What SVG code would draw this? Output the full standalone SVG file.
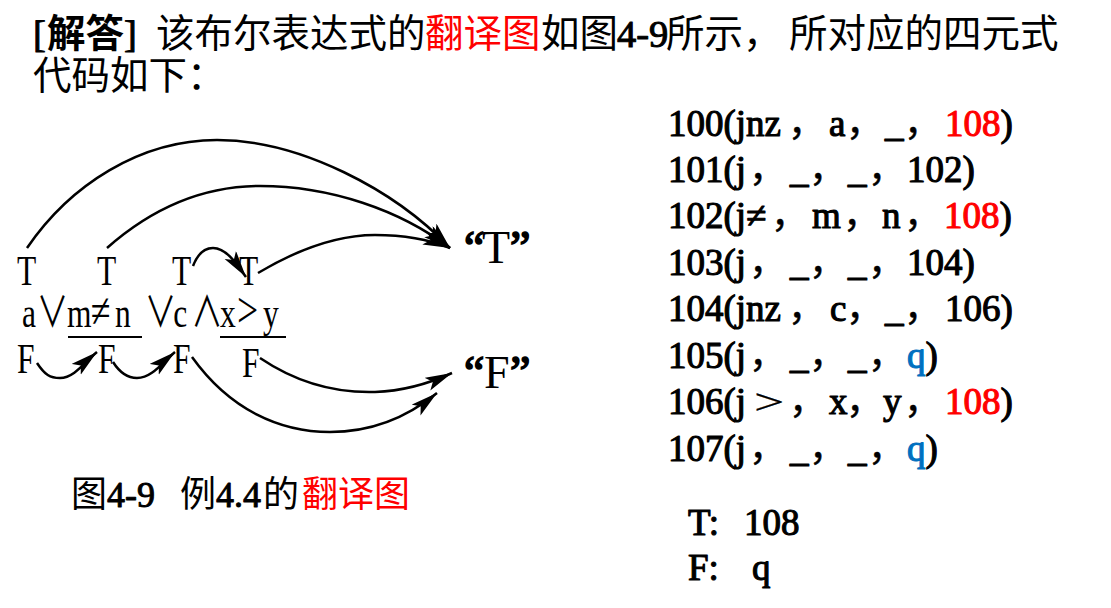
<svg xmlns="http://www.w3.org/2000/svg" width="1111" height="608" viewBox="0 0 1111 608">
<defs>
<style>
.cjk{font-family:"Noto Sans CJK SC",sans-serif;font-size:38.5px;fill:#000}
.lb{font-family:"Liberation Serif",serif;font-size:42px;fill:#000;stroke:#000;stroke-width:1.1;stroke-linejoin:round}
.cm{font-family:"Noto Sans CJK SC",sans-serif;stroke-width:0.6}
.red{fill:#ff0000}
.rb{fill:#ff0000;stroke:#ff0000}
.blue{fill:#0070c0;stroke:#0070c0}
.dg{font-family:"Liberation Serif",serif;font-size:42px;fill:#000}
.op{font-family:"Noto Sans CJK SC",sans-serif}
.code{font-family:"Liberation Serif",serif;font-size:42px;fill:#000;stroke:#000;stroke-width:1.25;stroke-linejoin:round}
.tgt{font-family:"Liberation Serif",serif;font-size:46px;fill:#000}
.q{stroke:#000;stroke-width:1.6}
.cap{font-family:"Noto Sans CJK SC",sans-serif;font-size:36px;fill:#000}
.arc{fill:none;stroke:#000;stroke-width:2.5;marker-end:url(#ah)}
.ul{stroke:#000;stroke-width:2.2}
</style>
<marker id="ah" markerUnits="userSpaceOnUse" markerWidth="30" markerHeight="16" refX="27" refY="7" orient="auto">
<path d="M0,0 L27,7 L0,14 L6,7 Z" fill="#000"/>
</marker>
</defs>
<rect width="1111" height="608" fill="#fff"/>

<g id="header">
<text class="cjk" y="47"><tspan x="47" font-weight="bold">解答</tspan><tspan x="156">该布尔表达式的</tspan><tspan x="425" class="red">翻译图</tspan><tspan x="541">如图</tspan><tspan x="666">所示，</tspan><tspan x="789">所对应的四元式</tspan></text>
<text class="lb" transform="translate(33,47) scale(0.917)">[</text>
<text class="lb" transform="translate(124,47) scale(0.917)">]</text>
<text class="lb" transform="translate(617,47) scale(0.917)">4-9</text>
<text class="cjk" x="33" y="89">代码如下：</text>
</g>

<g id="diagram-labels" transform="scale(0.75,1)">
<g id="t-row" class="dg">
<text x="22.7" y="285">T</text>
<text x="129.3" y="285">T</text>
<text x="229.3" y="285">T</text>
<text x="318.7" y="285">T</text>
</g>
<g id="expression" class="dg">
<text y="327"><tspan x="29.3">a</tspan><tspan x="49" class="op">∨</tspan><tspan x="89.3">m</tspan><tspan x="121" font-size="48">≠</tspan><tspan x="153.3">n</tspan><tspan x="193" class="op">∨</tspan><tspan x="231">c</tspan><tspan x="255" class="op">∧</tspan><tspan x="293.3">x</tspan><tspan x="316" font-size="50">&gt;</tspan><tspan x="350.7">y</tspan></text>
</g>
<g id="f-row" class="dg">
<text x="22.7" y="373">F</text>
<text x="130.7" y="373">F</text>
<text x="230.7" y="373">F</text>
<text x="322.7" y="377">F</text>
</g>
</g>
<g id="underlines">
<line class="ul" x1="68" y1="337" x2="142" y2="337"/>
<line class="ul" x1="220" y1="337" x2="286" y2="337"/>
</g>

<g id="target-T" class="tgt">
<text y="263"><tspan x="464" class="q">“</tspan><tspan x="482">T</tspan><tspan x="510" class="q">”</tspan></text>
</g>
<g id="target-F" class="tgt">
<text y="388"><tspan x="464" class="q">“</tspan><tspan x="484">F</tspan><tspan x="510" class="q">”</tspan></text>
</g>

<g id="connectors">
<path class="arc" d="M27,248 C70,185 140,140 217,140 C300,140 395,190 450,248"/>
<path class="arc" d="M107,248 C150,210 200,186 260,186 C330,186 400,210 450,248"/>
<path class="arc" d="M258,273 C300,248 340,235 375,235 C405,235 430,240 450,248"/>
<path class="arc" d="M193,266 C198,253 205,248 213,248 C226,248 236,263 246,277"/>
<path class="arc" d="M37,363 C45,375 50,378 60,378 C74,378 85,362 97,352"/>
<path class="arc" d="M113,362 C120,373 127,378 137,378 C152,378 163,362 175,352"/>
<path class="arc" d="M260,358 C300,385 340,393 375,392 C405,391 430,383 452,373"/>
<path class="arc" d="M192,357 C230,410 280,432 330,432 C375,432 410,415 437,393"/>
</g>

<g id="code" class="code" transform="scale(0.881)">
<text y="154.4"><tspan x="758.2">100(jnz</tspan><tspan x="894.4" class="cm">，</tspan><tspan x="941">a</tspan><tspan x="960.3" class="cm">，</tspan><tspan x="1004.5">_</tspan><tspan x="1026.1" class="cm">，</tspan><tspan x="1072.6" class="rb">108</tspan><tspan>)</tspan></text>
<text y="206.6"><tspan x="758.2">101(j</tspan><tspan x="850.2" class="cm">，</tspan><tspan x="896.7">_</tspan><tspan x="918.3" class="cm">，</tspan><tspan x="962.5">_</tspan><tspan x="985.2" class="cm">，</tspan><tspan x="1029.5">102)</tspan></text>
<text y="258.8"><tspan x="758.2">102(j≠</tspan><tspan x="875.1" class="cm">，</tspan><tspan x="921.7">m</tspan><tspan x="956.9" class="cm">，</tspan><tspan x="1001.1">n</tspan><tspan x="1026.1" class="cm">，</tspan><tspan x="1071.5" class="rb">108</tspan><tspan>)</tspan></text>
<text y="312.1"><tspan x="758.2">103(j</tspan><tspan x="850.2" class="cm">，</tspan><tspan x="896.7">_</tspan><tspan x="918.3" class="cm">，</tspan><tspan x="962.5">_</tspan><tspan x="985.2" class="cm">，</tspan><tspan x="1029.5">104)</tspan></text>
<text y="364.4"><tspan x="758.2">104(jnz</tspan><tspan x="894.4" class="cm">，</tspan><tspan x="942.1">c</tspan><tspan x="960.3" class="cm">，</tspan><tspan x="1004.5">_</tspan><tspan x="1026.1" class="cm">，</tspan><tspan x="1072.6">106)</tspan></text>
<text y="417.7"><tspan x="758.2">105(j</tspan><tspan x="850.2" class="cm">，</tspan><tspan x="896.7">_</tspan><tspan x="918.3" class="cm">，</tspan><tspan x="962.5">_</tspan><tspan x="985.2" class="cm">，</tspan><tspan x="1029.5" class="blue">q</tspan><tspan>)</tspan></text>
<text y="469.9"><tspan x="758.2">106(j</tspan><tspan x="895.6" class="cm">，</tspan><tspan x="941">x</tspan><tspan x="960.3" class="cm">，</tspan><tspan x="1002.3">y</tspan><tspan x="1026.1" class="cm">，</tspan><tspan x="1072.6" class="rb">108</tspan><tspan>)</tspan></text>
<text transform="translate(855.8,469.9) scale(1.45,0.95)" stroke-width="0.3">&gt;</text>
<text y="523.3"><tspan x="758.2">107(j</tspan><tspan x="850.2" class="cm">，</tspan><tspan x="896.7">_</tspan><tspan x="918.3" class="cm">，</tspan><tspan x="962.5">_</tspan><tspan x="985.2" class="cm">，</tspan><tspan x="1029.5" class="blue">q</tspan><tspan>)</tspan></text>
</g>

<g id="caption">
<text class="cap" y="507"><tspan x="71">图</tspan><tspan x="180">例</tspan><tspan x="263">的</tspan><tspan x="302" class="red">翻译图</tspan></text>
<text class="lb" transform="translate(107,507) scale(0.857)">4-9</text>
<text class="lb" transform="translate(216,507) scale(0.857)">4.4</text>
</g>

<g id="exits" class="code" transform="scale(0.881)">
<text y="607.3"><tspan x="780.9">T:</tspan><tspan x="844.5">108</tspan></text>
<text y="658.3"><tspan x="780.9">F:</tspan><tspan x="853.6">q</tspan></text>
</g>
</svg>
